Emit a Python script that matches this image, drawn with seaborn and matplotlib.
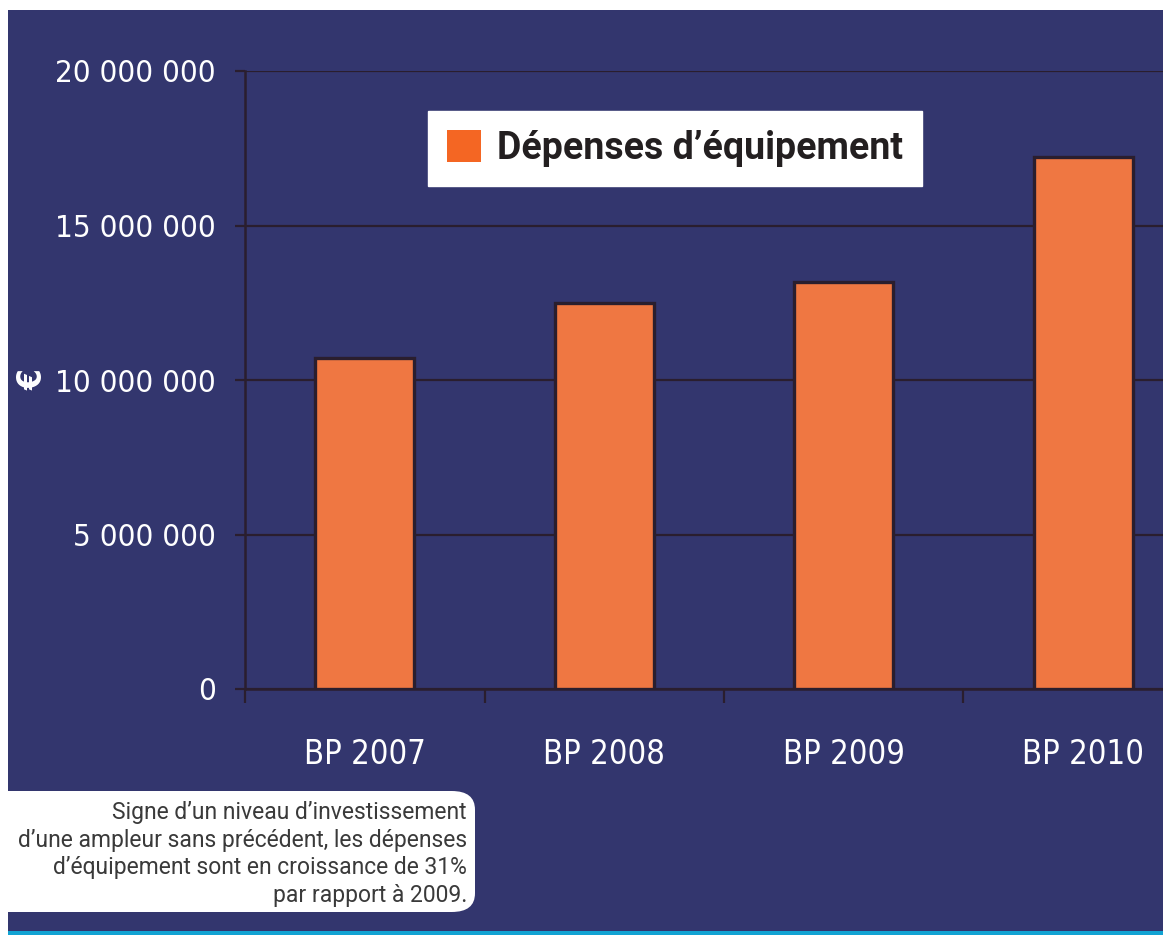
import matplotlib
matplotlib.use("Agg")
import matplotlib.pyplot as plt
import seaborn as sns
import numpy as np
import pandas as pd
from matplotlib.patches import Patch, Rectangle, FancyBboxPatch
from matplotlib.ticker import FuncFormatter, FixedLocator

# ---- data ----
categories = ["BP 2007", "BP 2008", "BP 2009", "BP 2010"]
depenses = [10_710_000, 12_490_000, 13_170_000, 17_220_000]
series_label = "Dépenses d’équipement"
y_ticks = [0, 5_000_000, 10_000_000, 15_000_000, 20_000_000]
note_text = ("Signe d’un niveau d’investissement\n"
             "d’une ampleur sans précédent, les dépenses\n"
             "d’équipement sont en croissance de 31%\n"
             "par rapport à 2009.")

# ---- style ----
navy = "#33366e"
bar_color = "#ef7742"
legend_color = "#f46623"
dark = "#2a1e2e"
cyan = "#12a3d3"

sns.set_theme(style="white")
plt.rcParams["font.family"] = ["DejaVu Sans"]

W, H = 1163, 935
fig = plt.figure(figsize=(W / 100, H / 100), dpi=100, facecolor="white")

# navy panel (white margin on top and left, cyan rule at bottom)
fig.patches.append(Rectangle((8 / W, 4 / H), 1 - 8 / W, (H - 10 - 4) / H,
                             transform=fig.transFigure, facecolor=navy,
                             edgecolor="none", zorder=-5))
fig.patches.append(Rectangle((8 / W, 0), 1 - 8 / W, 4 / H,
                             transform=fig.transFigure, facecolor=cyan,
                             edgecolor="none", zorder=-5))

ax = fig.add_axes([245 / W, (H - 689) / H, 1 - 245 / W, (689 - 71) / H])
ax.set_facecolor("none")

df = pd.DataFrame({"cat": categories, "val": depenses})
sns.barplot(data=df, x="cat", y="val", ax=ax, color=bar_color,
            edgecolor=dark, linewidth=2.4, width=0.413, saturation=1, zorder=3)

ax.yaxis.set_major_locator(FixedLocator(y_ticks))
ax.yaxis.set_major_formatter(FuncFormatter(lambda v, p: f"{int(v):,}".replace(",", " ")))
ax.grid(axis="y", color=dark, linewidth=1.6, zorder=0)
ax.set_axisbelow(True)

for s in ["top", "right"]:
    ax.spines[s].set_visible(False)
for s in ["left", "bottom"]:
    ax.spines[s].set_color(dark)
    ax.spines[s].set_linewidth(1.8)

ax.tick_params(axis="y", which="major", length=7, width=1.6, color=dark,
               pad=14, labelcolor="white", labelsize=22.5, left=True)
ax.set_xticks(range(len(categories)))
ax.set_xticklabels(categories)
ax.set_xticks([-0.5, 0.5, 1.5, 2.5, 3.5], minor=True)
ax.tick_params(axis="x", which="major", length=0, pad=35, labelcolor="white",
               labelsize=23.5)
ax.tick_params(axis="x", which="minor", length=10, width=1.6, color=dark,
               bottom=True, direction="out")
for lab in ax.get_xticklabels() + ax.get_yticklabels():
    lab.set_fontfamily("DejaVu Sans")
    lab.set_fontstretch("condensed")

ax.set_xlim(-0.5, -0.5 + (W - 245) / 239.5)
ax.set_ylim(0, 20_000_000)

ax.set_xlabel("")
ax.set_ylabel("€", color="white", fontsize=24, fontweight="bold",
              fontstretch="condensed")
ax.yaxis.set_label_coords((50 - 245) / (W - 245), 0.5)

# legend
handle = Patch(facecolor=legend_color, edgecolor="none", label=series_label)
leg = ax.legend(handles=[handle], loc="upper left",
                bbox_to_anchor=(428 / W, 1 - 111 / H),
                bbox_transform=fig.transFigure,
                frameon=True, fancybox=False, framealpha=1,
                facecolor="white", edgecolor="white",
                prop={"family": ["Roboto", "DejaVu Sans"], "weight": "bold", "size": 27},
                handlelength=0.92, handleheight=0.92, handletextpad=0.42,
                borderpad=0.5, borderaxespad=0)
for t in leg.get_texts():
    t.set_color("#231f20")

# note box
box = FancyBboxPatch((-20 / W, (H - 912) / H), (475 + 20) / W, 121 / H,
                     boxstyle="round,pad=0,rounding_size=0.02",
                     transform=fig.transFigure, facecolor="white",
                     edgecolor="none", zorder=2)
fig.patches.append(box)
fig.text(467 / W, (H - 854) / H, note_text, ha="right", va="center",
         fontsize=16.5, color="#3a3a3a", linespacing=1.27,
         family=["Roboto", "DejaVu Sans"], zorder=3)

fig.savefig("out.png", dpi=100, facecolor="white")
